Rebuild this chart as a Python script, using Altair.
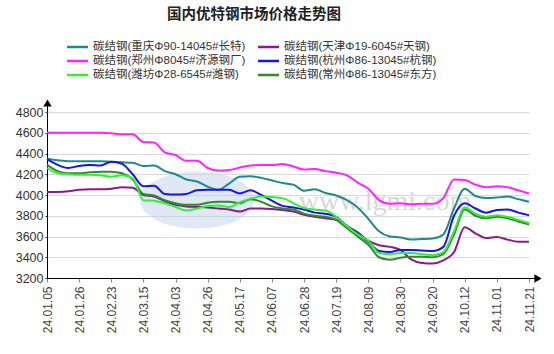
import altair as alt
import pandas as pd

# ---------------- data ----------------
dates = ["24.01.05", "24.01.12", "24.01.19", "24.01.26", "24.02.02", "24.02.08",
         "24.02.23", "24.03.01", "24.03.08", "24.03.15", "24.03.22", "24.03.29",
         "24.04.03", "24.04.12", "24.04.19", "24.04.26", "24.05.06", "24.05.10",
         "24.05.17", "24.05.24", "24.05.31", "24.06.07", "24.06.14", "24.06.21",
         "24.06.28", "24.07.05", "24.07.12", "24.07.19", "24.07.26", "24.08.02",
         "24.08.09", "24.08.16", "24.08.23", "24.08.30", "24.09.06", "24.09.13",
         "24.09.20", "24.09.27", "24.09.30", "24.10.12", "24.10.18", "24.10.25",
         "24.11.01", "24.11.08", "24.11.15", "24.11.21"]

names = ["碳结钢(重庆Φ90-14045#长特)", "碳结钢(天津Φ19-6045#天钢)",
         "碳结钢(郑州Φ8045#济源钢厂)", "碳结钢(杭州Φ86-13045#杭钢)",
         "碳结钢(潍坊Φ28-6545#潍钢)", "碳结钢(常州Φ86-13045#东方)"]
colors = ["#1F8A8A", "#8B1A8B", "#FF22FF", "#1515E6", "#33EE33", "#2E8B2E"]

chongqing = [4350, 4335, 4325, 4325, 4325, 4325, 4320, 4315, 4310, 4280,
             4285, 4230, 4200, 4150, 4130, 4080, 4050, 4110, 4175, 4180,
             4165, 4140, 4115, 4100, 4040, 4055, 4020, 3995, 3950, 3880,
             3770, 3650, 3600, 3590, 3570, 3575, 3580, 3620, 3870, 4060,
             3990, 3970, 3975, 3985, 3960, 3935]
tianjin = [4030, 4030, 4035, 4050, 4055, 4055, 4060, 4075, 4070, 4000,
           3985, 3940, 3905, 3890, 3885, 3880, 3870, 3860, 3840, 3870,
           3870, 3865, 3855, 3840, 3810, 3790, 3775, 3760, 3700, 3640,
           3560, 3515, 3500, 3470, 3380, 3345, 3340, 3370, 3450, 3690,
           3630, 3585, 3595, 3570, 3550, 3550]
zhengzhou = [4600, 4600, 4600, 4600, 4600, 4600, 4595, 4585, 4585, 4510,
             4505, 4410, 4385, 4330, 4330, 4260, 4235, 4240, 4265, 4285,
             4290, 4290, 4300, 4275, 4245, 4250, 4230, 4215, 4190, 4120,
             4060, 3950, 3915, 3920, 3910, 3915, 3915, 3970, 4150, 4145,
             4100, 4075, 4085, 4075, 4045, 4015]
hangzhou = [4345, 4290, 4260, 4280, 4290, 4285, 4320, 4300, 4200, 4085,
            4090, 4010, 4005, 4010, 4045, 4050, 4050, 4050, 4015, 4045,
            4000, 3945, 3895, 3880, 3860, 3830, 3820, 3790, 3700, 3630,
            3550, 3460, 3450, 3470, 3470, 3465, 3460, 3500, 3800, 3920,
            3870, 3830, 3855, 3860, 3830, 3805]
weifang = [4260, 4210, 4200, 4195, 4195, 4190, 4175, 4190, 4160, 3950,
           3945, 3920, 3885, 3850, 3870, 3895, 3900, 3885, 3930, 3965,
           3985, 3980, 3970, 3920, 3875, 3860, 3850, 3790, 3700, 3620,
           3560, 3440, 3430, 3440, 3440, 3430, 3420, 3450, 3650, 3880,
           3820, 3790, 3805, 3790, 3760, 3730]
changzhou = [4290, 4230, 4210, 4210, 4220, 4225, 4225, 4210, 4150, 4010,
             3995, 3950, 3920, 3905, 3905, 3925, 3935, 3935, 3920, 3960,
             3935, 3890, 3870, 3860, 3820, 3800, 3790, 3760, 3680, 3600,
             3520, 3400, 3375, 3395, 3405, 3405, 3400, 3430, 3620, 3860,
             3800, 3775, 3790, 3775, 3745, 3715]

title_text = "国内优特钢市场价格走势图"
y_ticks = [3200, 3400, 3600, 3800, 4000, 4200, 4400, 4600, 4800]
x_ticks = dates[::3]
watermark = "www.lgmi.com"

series = [chongqing, tianjin, zhengzhou, hangzhou, weifang, changzhou]
draw_order = [0, 1, 2, 3, 5, 4]
rows = []
for k in draw_order:
    for d, v in zip(dates, series[k]):
        rows.append({"date": d, "price": v, "series": names[k], "ord": draw_order.index(k)})
df = pd.DataFrame(rows)

W, H = 482, 166
FONT = "Liberation Sans, Noto Sans CJK SC, sans-serif"

one = pd.DataFrame({"a": [0]})

# watermark ellipse (logo) and text
logo = alt.Chart(one).mark_point(
    shape="M-1,0A1,0.5 0 1,0 1,0A1,0.5 0 1,0 -1,0Z", filled=True,
    color="#b9cde6", opacity=0.45, size=13000
).encode(x=alt.value(150), y=alt.value(88))

wm = alt.Chart(pd.DataFrame({"t": [watermark]})).mark_text(
    font="Liberation Serif", fontSize=28, color="#cfcfcf", opacity=0.8,
    align="center", baseline="alphabetic"
).encode(text="t:N", x=alt.value(338), y=alt.value(98))

lines = alt.Chart(df).mark_line(interpolate="monotone", strokeWidth=2).encode(
    x=alt.X("date:O", sort=dates,
            scale=alt.Scale(type="point", padding=0),
            axis=alt.Axis(values=x_ticks, labelAngle=270, title=None,
                          labelFont=FONT, labelFontSize=12, labelColor="#444",
                          labelPadding=4, tickSize=4, tickColor="#888",
                          domainColor="black", grid=False, labelOverlap=False)),
    y=alt.Y("price:Q", scale=alt.Scale(domain=[3200, 4800], nice=False, zero=False),
            axis=alt.Axis(values=y_ticks, format="d", title=None, labelFont=FONT,
                          labelFontSize=12.5, labelColor="#333", labelPadding=2,
                          tickSize=2, tickColor="#333", domainColor="black",
                          grid=True, gridColor="#d9d9d9")),
    color=alt.Color("series:N", scale=alt.Scale(domain=names, range=colors), legend=None),
    order=alt.Order("ord:Q"),
    detail="series:N",
)

# axis extensions and arrows
yext = alt.Chart(one).mark_rule(color="black", strokeWidth=1).encode(
    x=alt.value(0.5), y=alt.value(-10), y2=alt.value(0))
xext = alt.Chart(one).mark_rule(color="black", strokeWidth=1).encode(
    x=alt.value(W), x2=alt.value(W + 8), y=alt.value(H + 0.5))
yarrow = alt.Chart(one).mark_point(shape="triangle-up", filled=True, color="black",
                                   size=70, opacity=1).encode(
    x=alt.value(0.5), y=alt.value(-9))
xarrow = alt.Chart(one).mark_point(shape="triangle-right", filled=True, color="black",
                                   size=70, opacity=1).encode(
    x=alt.value(W + 9), y=alt.value(H + 0.5))

# title
title = alt.Chart(pd.DataFrame({"t": [title_text]})).mark_text(
    font="Noto Sans CJK SC", fontSize=14.5, fontWeight="bold", color="#222",
    align="center", baseline="middle"
).encode(text="t:N", x=alt.value(207), y=alt.value(-97))

# manual legend
legend_layers = []
for i, nm in enumerate(names):
    col, row = i % 2, i // 2
    lx = 20 + col * 191
    ly = -65 + row * 14
    legend_layers.append(
        alt.Chart(one).mark_rule(color=colors[i], strokeWidth=2.5).encode(
            x=alt.value(lx), x2=alt.value(lx + 21), y=alt.value(ly)))
    legend_layers.append(
        alt.Chart(pd.DataFrame({"t": [nm]})).mark_text(
            font=FONT, fontSize=11.5, color="#333", align="left", baseline="middle"
        ).encode(text="t:N", x=alt.value(lx + 26), y=alt.value(ly)))

chart = alt.layer(logo, wm, lines, yext, xext, yarrow, xarrow, title, *legend_layers).properties(
    width=W, height=H,
    padding={"left": 47, "top": 112, "right": 25, "bottom": 76},
    autosize=alt.AutoSizeParams(type="none"),
    background="white",
).configure_view(stroke=None)

chart.save("out.html", embed_options={"renderer": "svg", "actions": False})
